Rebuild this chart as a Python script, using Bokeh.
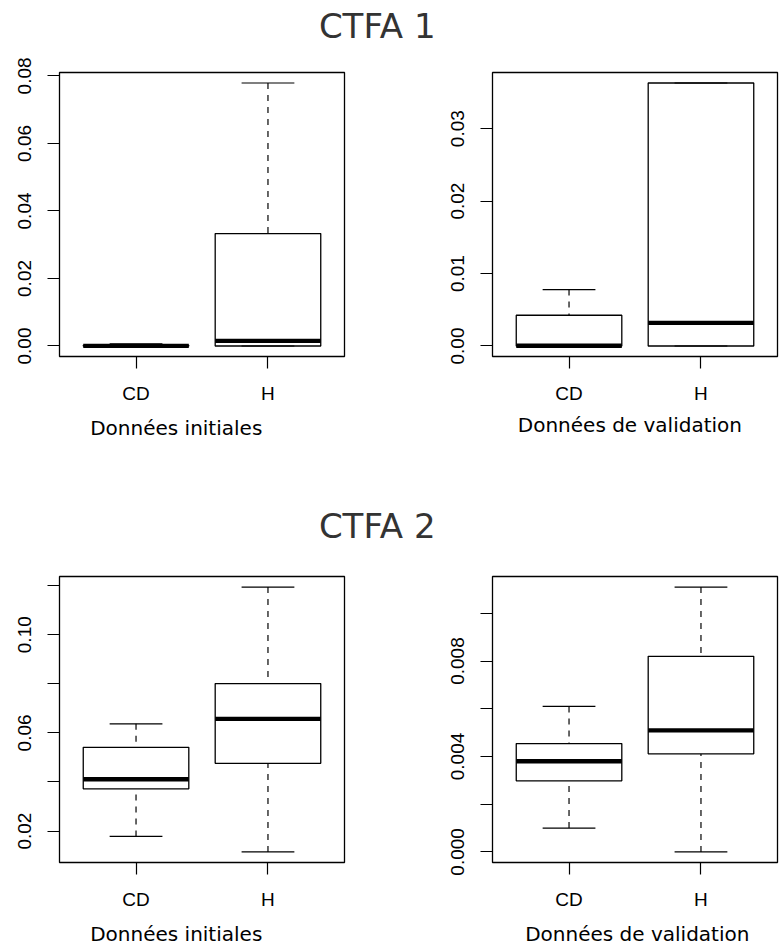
from bokeh.plotting import figure
from bokeh.layouts import column, row
from bokeh.models import ColumnDataSource, FixedTicker, Label, Range1d, FactorRange
from bokeh.transform import dodge
from bokeh.embed import file_html
from bokeh.resources import INLINE

# ---------------- data ----------------
groups = ["CD", "H"]

# CTFA 1 - Données initiales
c1i_low = [0.0, 0.0]
c1i_q1 = [0.0, 0.0]
c1i_med = [0.00003, 0.0015]
c1i_q3 = [0.00015, 0.0333]
c1i_high = [0.0006, 0.0779]

# CTFA 1 - Données de validation
c1v_low = [0.0, 0.0]
c1v_q1 = [0.0, 0.0]
c1v_med = [0.00003, 0.00318]
c1v_q3 = [0.00424, 0.0363]
c1v_high = [0.00778, 0.0363]

# CTFA 2 - Données initiales
c2i_low = [0.0178, 0.0115]
c2i_q1 = [0.0372, 0.0476]
c2i_med = [0.0411, 0.0657]
c2i_q3 = [0.0541, 0.0801]
c2i_high = [0.0637, 0.1194]

# CTFA 2 - Données de validation
c2v_low = [0.0010, 0.0]
c2v_q1 = [0.00298, 0.00411]
c2v_med = [0.0038, 0.00509]
c2v_q3 = [0.00454, 0.0082]
c2v_high = [0.0061, 0.0111]

# axis ticks / labels
c1i_ticks = [0.0, 0.02, 0.04, 0.06, 0.08]
c1i_labels = ["0.00", "0.02", "0.04", "0.06", "0.08"]
c1v_ticks = [0.0, 0.01, 0.02, 0.03]
c1v_labels = ["0.00", "0.01", "0.02", "0.03"]
c2i_ticks = [0.02, 0.04, 0.06, 0.08, 0.10, 0.12]
c2i_labels = ["0.02", "", "0.06", "", "0.10", ""]
c2v_ticks = [0.0, 0.002, 0.004, 0.006, 0.008, 0.010]
c2v_labels = ["0.000", "", "0.004", "", "0.008", ""]

titles = ["CTFA 1", "CTFA 2"]
xlabels = ["Données initiales", "Données de validation"]

TICK_FONT = "Liberation Sans"
LAB_FONT = "DejaVu Sans"
TOTAL_W = 779


def panel(low, q1, med, q3, high, ticks, labels, width, height, bl, br, bt, bb):
    lo, hi = min(low), max(high)
    pad = 0.04 * (hi - lo)
    p = figure(width=width, height=height,
               x_range=FactorRange(*groups, range_padding=0.08),
               y_range=Range1d(lo - pad, hi + pad),
               output_backend="svg", toolbar_location=None,
               min_border_left=bl, min_border_right=br,
               min_border_top=bt, min_border_bottom=bb)
    p.xgrid.visible = False
    p.ygrid.visible = False
    p.outline_line_color = "black"
    p.outline_line_width = 1.3
    p.background_fill_color = "white"
    p.border_fill_color = "white"

    src = ColumnDataSource(dict(g=groups, low=low, q1=q1, med=med, q3=q3, high=high))
    # whiskers
    p.segment(x0="g", y0="high", x1="g", y1="q3", source=src,
              line_color="black", line_width=1.2, line_dash="6 6")
    p.segment(x0="g", y0="low", x1="g", y1="q1", source=src,
              line_color="black", line_width=1.2, line_dash="6 6")
    # boxes
    p.vbar(x="g", width=0.8, top="q3", bottom="q1", source=src,
           fill_color="white", line_color="black", line_width=1.3)
    # medians
    p.segment(x0=dodge("g", -0.4, range=p.x_range), y0="med",
              x1=dodge("g", 0.4, range=p.x_range), y1="med", source=src,
              line_color="black", line_width=4.3, line_cap="butt")
    # staples
    p.segment(x0=dodge("g", -0.2, range=p.x_range), y0="high",
              x1=dodge("g", 0.2, range=p.x_range), y1="high", source=src,
              line_color="black", line_width=1.2)
    p.segment(x0=dodge("g", -0.2, range=p.x_range), y0="low",
              x1=dodge("g", 0.2, range=p.x_range), y1="low", source=src,
              line_color="black", line_width=1.2)

    # y axis
    ya = p.yaxis[0]
    ya.ticker = FixedTicker(ticks=ticks, minor_ticks=[])
    ya.major_label_overrides = {t: l for t, l in zip(ticks, labels)}
    ya.major_label_orientation = "vertical"
    ya.major_tick_out = 12
    ya.major_tick_in = 0
    ya.minor_tick_out = 0
    ya.minor_tick_in = 0
    ya.major_tick_line_width = 1.2
    ya.axis_line_color = None
    ya.major_label_standoff = 16
    ya.major_label_text_font = TICK_FONT
    ya.major_label_text_font_size = "19px"
    ya.major_label_text_color = "black"

    # x axis
    xa = p.xaxis[0]
    xa.major_tick_out = 12
    xa.major_tick_in = 0
    xa.major_tick_line_width = 1.2
    xa.axis_line_color = None
    xa.major_label_standoff = 14
    xa.major_label_text_font = TICK_FONT
    xa.major_label_text_font_size = "19px"
    xa.major_label_text_color = "black"
    return p


def strip(height, texts):
    """texts: list of (text, x, y_from_bottom (text middle), size, color, align)"""
    t = figure(width=TOTAL_W, height=height, x_range=(0, 1), y_range=(0, 1),
               output_backend="svg", toolbar_location=None, min_border=0)
    t.xaxis.visible = False
    t.yaxis.visible = False
    t.xgrid.visible = False
    t.ygrid.visible = False
    t.outline_line_color = None
    for txt, x, y, size, color, align in texts:
        t.add_layout(Label(x=x, y=y, x_units="screen", y_units="screen",
                           text=txt, text_font=LAB_FONT, text_font_size=size,
                           text_color=color, text_align=align,
                           text_baseline="middle"))
    return t


t1 = strip(50, [(titles[0], 376.7, 24.5, "34px", "#333333", "center")])
p1 = panel(c1i_low, c1i_q1, c1i_med, c1i_q3, c1i_high, c1i_ticks, c1i_labels,
           391, 360, 59, 47, 22, 54)
p2 = panel(c1v_low, c1v_q1, c1v_med, c1v_q3, c1v_high, c1v_ticks, c1v_labels,
           388, 360, 101, 2, 22, 54)
mid = strip(145, [(xlabels[0], 89.7, 127.9, "20px", "black", "left"),
                  (xlabels[1], 517.3, 130.9, "20px", "black", "left"),
                  (titles[1], 376.7, 29.5, "34px", "#333333", "center")])
p3 = panel(c2i_low, c2i_q1, c2i_med, c2i_q3, c2i_high, c2i_ticks, c2i_labels,
           391, 357, 59, 47, 21, 50)
p4 = panel(c2v_low, c2v_q1, c2v_med, c2v_q3, c2v_high, c2v_ticks, c2v_labels,
           388, 357, 101, 2, 21, 50)
bot = strip(36, [(xlabels[0], 89.7, 14.9, "20px", "black", "left"),
                 (xlabels[1], 524.7, 14.2, "20px", "black", "left")])

layout = column(t1, row(p1, p2, spacing=0), mid, row(p3, p4, spacing=0), bot,
                spacing=0)

open("out.html", "w").write(file_html(layout, INLINE))
